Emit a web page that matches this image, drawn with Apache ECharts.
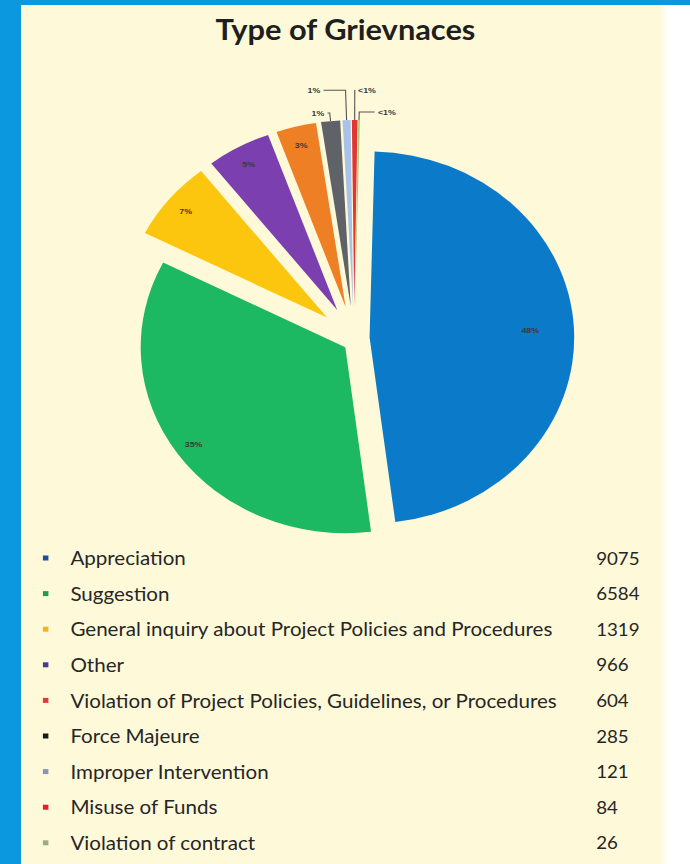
<!DOCTYPE html>
<html>
<head>
<meta charset="utf-8">
<script src="https://cdn.jsdelivr.net/npm/echarts@6/dist/echarts.min.js"></script>
<style>
html,body{margin:0;padding:0;width:690px;height:864px;overflow:hidden;background:#ffffff;}
#topband{position:absolute;left:0;top:0;width:690px;height:5px;background:#0c98df;}
#leftband{position:absolute;left:0;top:0;width:21px;height:864px;background:#0c98df;}
#panel{position:absolute;left:21px;top:5px;width:639px;height:859px;background:#fef9d9;}
#fade{position:absolute;left:660px;top:5px;width:8px;height:859px;background:linear-gradient(to right,#fef9d9,#ffffff);}
#chart{position:absolute;left:0;top:0;width:628px;height:864px;transform:scaleX(1.1);transform-origin:0 0;}
</style>
</head>
<body>
<div id="topband"></div><div id="leftband"></div><div id="panel"></div><div id="fade"></div>
<div id="chart"></div>
<script>
// ---- data ----
const chartTitle = 'Type of Grievnaces';
const categories = [
  'Appreciation',
  'Suggestion',
  'General inquiry about Project Policies and Procedures',
  'Other',
  'Violation of Project Policies, Guidelines, or Procedures',
  'Force Majeure',
  'Improper Intervention',
  'Misuse of Funds',
  'Violation of contract'
];
const values = [9075, 6584, 1319, 966, 604, 285, 121, 84, 26];
const sliceLabels = ['48%', '35%', '7%', '5%', '3%', '1%', '1%', '<1%', '<1%'];

// ---- styles ----
const sliceColors = ['#0b7bc9', '#1db862', '#fdc60e', '#7b3fb0', '#ee7f24', '#5f6266', '#a9c3e8', '#e5342f', '#9fd07d'];
const legendColors = ['#1f4e9a', '#1f9e52', '#f2b320', '#4a3a9c', '#e03a3a', '#1a1a1a', '#8a93b8', '#e0202a', '#9aab8a'];

const CX = 327, CY = 338, R = 186, START = 88.6;
const groups = [
  { items: [0], offset: 9, shift: 0, ring: [0.70, 0.84] },
  { items: [1], offset: 16, shift: 0, ring: [0.82, 0.96] },
  { items: [2, 3, 4, 5, 6, 7, 8], offset: 32, shift: -5, ring: [0.81, 0.95] }
];
const insideLabelled = [0, 1, 2, 3, 4];
const outsideLine = {
  5: { length: 8, length2: 2 },
  6: { length: 30, length2: 20 },
  7: { length: 30, length2: 0 },
  8: { length: 8, length2: 14 }
};
const hidden = { color: 'rgba(0,0,0,0)', borderWidth: 0 };
const labelFont = { fontSize: 8, fontWeight: 'bold', color: '#3a3a3a', fontFamily: 'Liberation Sans' };

const series = [];
groups.forEach(g => {
  const center = [CX + g.shift, CY];
  series.push({
    type: 'pie', center: center, radius: [0, R], startAngle: START, clockwise: true,
    selectedMode: 'multiple', selectedOffset: g.offset, avoidLabelOverlap: false,
    silent: true, animation: false, emphasis: { disabled: true },
    itemStyle: { borderWidth: 0 },
    label: { show: false }, labelLine: { show: false },
    data: categories.map((name, i) => {
      const on = g.items.includes(i);
      const item = { name, value: values[i], selected: on, itemStyle: on ? { color: sliceColors[i], borderWidth: 0 } : hidden };
      if (on && outsideLine[i]) {
        item.label = Object.assign({ show: true, position: 'outside', formatter: sliceLabels[i], distanceToLabelLine: 3 }, labelFont);
        item.labelLine = { show: true, length: outsideLine[i].length, length2: outsideLine[i].length2, smooth: false, lineStyle: { color: '#555', width: 1 } };
      }
      return item;
    })
  });
  series.push({
    type: 'pie', center: center, radius: [g.ring[0] * R, g.ring[1] * R], startAngle: START, clockwise: true,
    selectedMode: 'multiple', selectedOffset: g.offset, avoidLabelOverlap: false,
    silent: true, animation: false, emphasis: { disabled: true },
    itemStyle: { borderWidth: 0 },
    label: { show: false }, labelLine: { show: false },
    data: categories.map((name, i) => {
      const on = g.items.includes(i) && insideLabelled.includes(i);
      return {
        name, value: values[i], selected: on, itemStyle: hidden,
        label: Object.assign({ show: on, position: 'inside', formatter: sliceLabels[i] }, labelFont)
      };
    })
  });
});

const chart = echarts.init(document.getElementById('chart'), null, { renderer: 'svg' });
chart.setOption({
  backgroundColor: 'transparent',
  animation: false,
  title: {
    text: chartTitle, left: 'center', top: 10,
    textStyle: { fontFamily: 'Lato', fontWeight: 'bold', fontSize: 28, color: '#1f1f1f' }
  },
  legend: {
    orient: 'vertical', left: 39, top: 548, padding: 0,
    itemWidth: 5, itemHeight: 5, itemGap: 15.6, icon: 'rect', selectedMode: false,
    data: categories.map((n, i) => ({ name: n, itemStyle: { color: legendColors[i] } })),
    formatter: name => {
      const i = categories.indexOf(name);
      return '{g| }{n|' + name + '}{v|' + values[i] + '}';
    },
    textStyle: {
      fontFamily: 'Lato', fontSize: 18.7, color: '#262626', lineHeight: 20,
      rich: {
        g: { width: 15, fontFamily: 'Lato', fontSize: 17 },
        n: { width: 478, fontFamily: 'Lato', fontSize: 18.7, color: '#262626' },
        v: { fontFamily: 'Lato', fontSize: 17, color: '#262626' }
      }
    }
  },
  series: series
});
</script>
</body>
</html>
